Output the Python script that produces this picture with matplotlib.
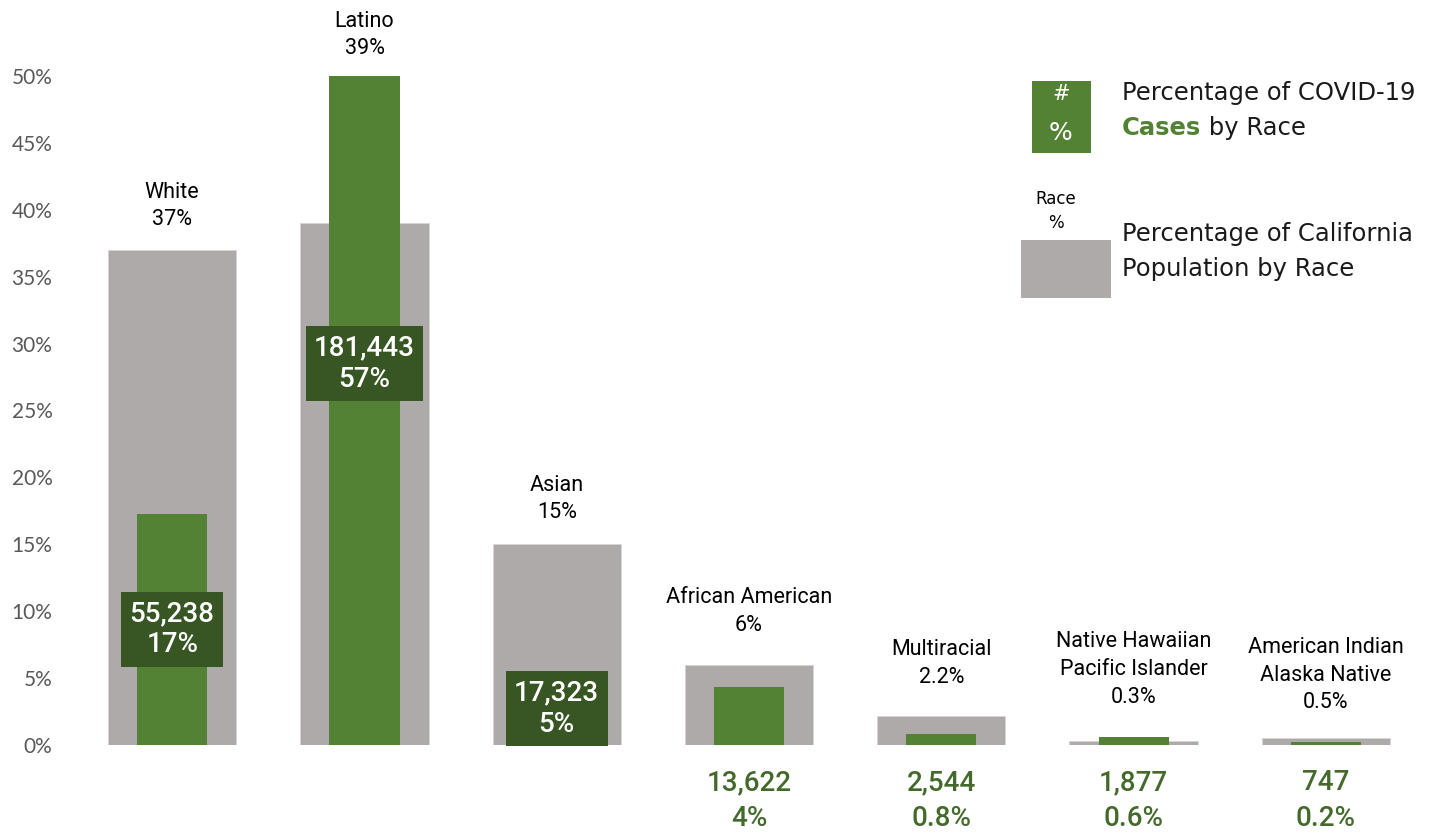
"""COVID-19 cases vs California population share, by race."""

import matplotlib

matplotlib.use("Agg")

import matplotlib.pyplot as plt
from matplotlib.patches import Rectangle

races = [
    "White",
    "Latino",
    "Asian",
    "African American",
    "Multiracial",
    "Native Hawaiian\nPacific Islander",
    "American Indian\nAlaska Native",
]
pop_pct = [37.0, 39.0, 15.0, 6.0, 2.2, 0.3, 0.5]
pop_labels = ["37%", "39%", "15%", "6%", "2.2%", "0.3%", "0.5%"]
case_pct = [17.3, 57.0, 5.4, 4.3, 0.8, 0.6, 0.2]
case_counts = ["55,238", "181,443", "17,323", "13,622", "2,544", "1,877", "747"]
case_labels = ["17%", "57%", "5%", "4%", "0.8%", "0.6%", "0.2%"]
yticks = [0, 5, 10, 15, 20, 25, 30, 35, 40, 45, 50]

GRAY = "#AEAAAA"
GREEN = "#548235"
DARK = "#375623"
TXT_GREEN = "#446A2B"
NARROW = ["Roboto", "DejaVu Sans"]
ROUND = ["Lato", "DejaVu Sans"]
WIDE = ["DejaVu Sans"]

# how far above the bar top each race label sits (points)
label_gap = [14, 12, 15, 21, 20, 21, 18]
inside_box = [True, True, True, False, False, False, False]

fig = plt.figure(figsize=(14.37, 8.34), dpi=100)
ax = fig.add_axes([0.0529, 0.1067, 0.9367, 0.8022])

x = list(range(len(races)))
ax.bar(x, pop_pct, width=0.667, color=GRAY, edgecolor="#D6D4D4", lw=0.6, zorder=1)
ax.bar(x, case_pct, width=0.365, color=GREEN, zorder=2)

ax.set_xlim(-0.5, len(races) - 0.5)
ax.set_ylim(0, 50)
ax.set_yticks(yticks)
ax.set_yticklabels([f"{v}%" for v in yticks], family=ROUND, fontsize=15, color="#595959")
ax.set_xticks([])
ax.tick_params(axis="y", length=0, pad=17)
for sp in ax.spines.values():
    sp.set_visible(False)

for i in x:
    top = min(max(pop_pct[i], case_pct[i]), 50)
    ax.annotate(
        f"{races[i]}\n{pop_labels[i]}",
        xy=(i, top),
        xytext=(0, label_gap[i]),
        textcoords="offset points",
        ha="center",
        va="bottom",
        family=NARROW,
        fontsize=15.5,
        linespacing=1.42,
        color="black",
        annotation_clip=False,
    )
    if inside_box[i]:
        ax.text(
            i,
            case_pct[i] / 2,
            f"{case_counts[i]}\n{case_labels[i]}",
            ha="center",
            va="center",
            family=NARROW,
            weight="medium",
            fontsize=20,
            linespacing=1.2,
            color="white",
            zorder=4,
            bbox=dict(boxstyle="square,pad=0.3", fc=DARK, ec="none"),
        )
    else:
        ax.annotate(
            f"{case_counts[i]}\n{case_labels[i]}",
            xy=(i, 0),
            xytext=(0, -17.5),
            textcoords="offset points",
            ha="center",
            va="top",
            family=NARROW,
            weight="medium",
            fontsize=20,
            linespacing=1.4,
            color=TXT_GREEN,
            annotation_clip=False,
        )

# hand-made legend (figure pixel positions)
W, H = 1437, 834


def fx(px):
    return px / W


def fy(py):
    return 1 - py / H


fig.add_artist(Rectangle((fx(1032), fy(153)), fx(59), 72 / H, transform=fig.transFigure,
                         fc=GREEN, ec="none"))
fig.text(fx(1061), fy(94), "#", ha="center", va="center", color="white", family=WIDE, fontsize=15)
fig.text(fx(1061), fy(133), "%", ha="center", va="center", color="white", family=WIDE, fontsize=18)
fig.add_artist(Rectangle((fx(1021), fy(298)), fx(90), 58 / H, transform=fig.transFigure,
                         fc=GRAY, ec="none"))
fig.text(fx(1056), fy(211), "Race\n%", ha="center", va="center", color="black", family=WIDE,
         fontsize=12, linespacing=1.5)

LEG = dict(ha="left", va="center", family=WIDE, fontsize=17.5, color="#1A1A1A")
fig.text(fx(1122), fy(93), "Percentage of COVID-19", **LEG)
t_cases = fig.text(fx(1122), fy(128), "Cases", ha="left", va="center", family=WIDE,
                   fontsize=17.5, color=GREEN, weight="bold")
ax.annotate(" by Race", xy=(1, 0), xycoords=t_cases, va="bottom", ha="left", family=WIDE,
            fontsize=17.5, color="#1A1A1A")
fig.text(fx(1122), fy(234), "Percentage of California", **LEG)
fig.text(fx(1122), fy(269), "Population by Race", **LEG)

fig.savefig("out.png", dpi=100, facecolor="white")
